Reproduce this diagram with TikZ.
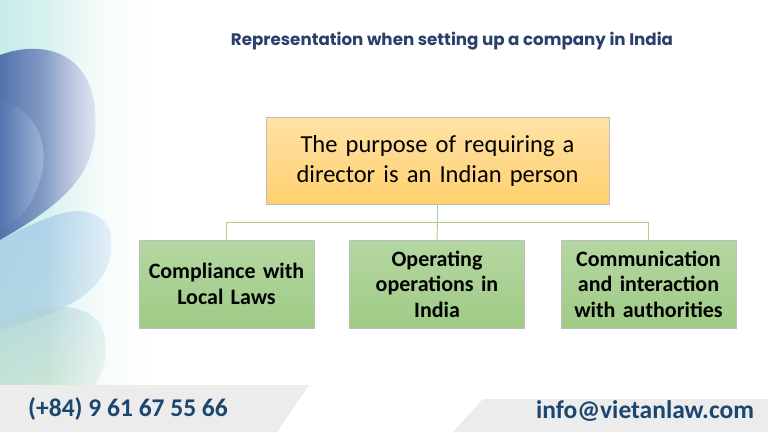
\documentclass[tikz,border=0pt]{standalone}
\usepackage{fontspec}
\setmainfont{Carlito}
\newfontfamily\titlefont{Poppins}
\usepackage{tikz}
\usetikzlibrary{positioning,fadings}

\definecolor{titleblue}{HTML}{2B3F6B}
\definecolor{footblue}{HTML}{1B4670}
\definecolor{footgray}{HTML}{ECECEC}
\definecolor{linegreen}{HTML}{A9D18E}
\definecolor{boxgray}{HTML}{BDBDBD}
\definecolor{orangetop}{HTML}{FFE2A6}
\definecolor{orangebot}{HTML}{FFD06E}
\definecolor{greentop}{HTML}{B5D7A2}
\definecolor{greenbot}{HTML}{9FCB85}
\definecolor{wavemint}{HTML}{C6ECE8}
\definecolor{wavedark}{HTML}{34569C}
\definecolor{waveperi}{HTML}{BCC6E4}
\definecolor{wavesky}{HTML}{9CC6E8}
\definecolor{wavegreen}{HTML}{C4E0CC}

\tikzfading[name=fade in right, left color=transparent!100, right color=transparent!0]

\tikzset{
  topbox/.style={draw=boxgray, top color=orangetop, bottom color=orangebot,
    minimum width=343pt, minimum height=87pt, text width=330pt, inner sep=2pt, align=center,
    font=\fontsize{24.5}{30}\selectfont},
  subbox/.style={draw=boxgray, top color=greentop, bottom color=greenbot,
    minimum width=175pt, minimum height=88pt, text width=170pt, inner sep=2pt, align=center,
    font=\fontsize{22}{25.5}\selectfont\bfseries},
  link/.style={draw=linegreen, line width=0.9pt},
  foottext/.style={text=footblue, font=\fontsize{25.5}{28}\selectfont\bfseries}
}

\begin{document}
\begin{tikzpicture}[x=1pt,y=-1pt]
\useasboundingbox (0,0) rectangle (768,432);
\fill[white] (0,0) rectangle (768,432);

% background waves on the left
\shade[left color=wavemint, right color=white] (0,0) rectangle (160,385);
\shade[left color=wavedark, right color=waveperi, opacity=0.8]
  (0,55) .. controls (40,40) and (90,50) .. (95,110) .. controls (100,170) and (70,200) .. (0,240) -- cycle;
\shade[left color=wavedark!70!wavesky, right color=waveperi!60, opacity=0.45]
  (0,100) .. controls (40,110) and (50,150) .. (40,180) .. controls (30,210) and (20,220) .. (0,230) -- cycle;
\shade[top color=wavesky, bottom color=wavesky!70!wavegreen, opacity=0.7]
  (0,240) .. controls (50,215) and (90,195) .. (110,230) .. controls (120,280) and (80,310) .. (0,330) -- cycle;
\shade[top color=wavesky!60!wavegreen, bottom color=wavegreen, opacity=0.7]
  (0,320) .. controls (50,300) and (100,300) .. (105,340) .. controls (108,365) and (100,375) .. (95,385) -- (0,385) -- cycle;
\fill[white, path fading=fade in right] (45,0) rectangle (152,385);
\fill[white] (152,0) rectangle (160,385);

% footer bands
\fill[footgray] (0,385) -- (309,385) -- (277,432) -- (0,432) -- cycle;
\fill[footgray] (483,399) -- (768,399) -- (768,432) -- (453,432) -- cycle;

% title
\node[text=titleblue, font=\titlefont\bfseries\fontsize{16.7}{19}\selectfont] (title) at (452,41)
  {Representation when setting up a company in India};

% chart
\node[topbox] (purpose) at (437.5,160.5) {The purpose of requiring a\\director is an Indian person};
\node[subbox] (laws) at (226.5,284) {Compliance with\\Local Laws};
\node[subbox] (ops) at (437,284) {Operating\\operations in\\India};
\node[subbox] (comm) at (648.5,284) {Communication\\and interaction\\with authorities};

\coordinate (fork) at (437.5,222);
\draw[link] (purpose.south) -- (fork);
\draw[link] (fork) -| (laws.north);
\draw[link] (fork) -- (ops.north);
\draw[link] (fork) -| (comm.north);

% footer texts
\node[foottext] (phone) at (128,409) {(+84) 9 61 67 55 66};
\node[foottext] (email) at (645,411) {info@vietanlaw.com};
\end{tikzpicture}
\end{document}
